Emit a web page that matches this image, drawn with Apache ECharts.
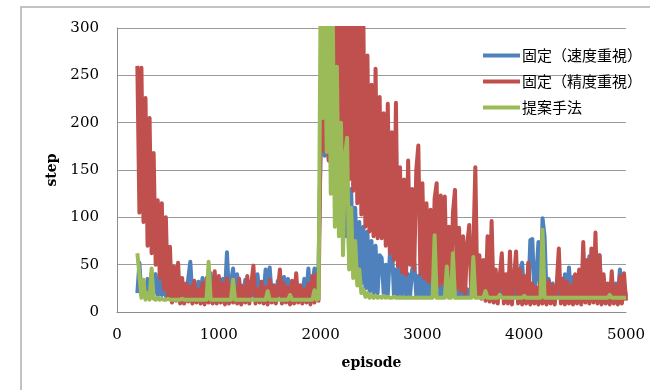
<!DOCTYPE html>
<html>
<head>
<meta charset="utf-8">
<script src="https://cdn.jsdelivr.net/npm/echarts@6/dist/echarts.min.js"></script>
<style>
  html, body { margin: 0; padding: 0; background: #fff; }
  #chart { width: 650px; height: 390px; }
</style>
</head>
<body>
<div id="chart"></div>
<script>
// episodes: 200, 220, ... 5000
var episodeStart = 200;
var episodeStep = 20;

var seriesNames = ['固定（速度重視）', '固定（精度重視）', '提案手法'];
var seriesColors = ['#4F81BD', '#C0504D', '#9BBB59'];

// 固定（速度重視）
var speedFixed = [
  20, 52, 18, 22, 17, 35, 18, 41, 20, 40,
  17, 35, 18, 25, 17, 22, 18, 24, 17, 28,
  18, 30, 17, 26, 18, 35, 53, 17, 28, 18,
  32, 17, 36, 18, 25, 17, 41, 18, 30, 17,
  28, 18, 35, 17, 63, 18, 32, 46, 17, 40,
  18, 28, 17, 34, 18, 26, 17, 30, 18, 40,
  17, 32, 18, 45, 17, 47, 18, 28, 17, 33,
  18, 30, 37, 17, 35, 18, 26, 17, 32, 18,
  28, 17, 35, 18, 46, 17, 30, 46, 18, 50,
  170, 300, 165, 290, 160, 280, 165, 260, 158, 230,
  150, 200, 80, 144, 60, 130, 50, 110, 40, 95,
  30, 90, 25, 85, 22, 75, 20, 70, 20, 60,
  57, 19, 50, 18, 60, 73, 18, 45, 18, 52,
  18, 64, 17, 40, 18, 45, 53, 17, 38, 18,
  42, 17, 35, 18, 30, 17, 38, 18, 28, 17,
  30, 18, 25, 17, 32, 18, 26, 17, 22, 17,
  28, 17, 24, 18, 20, 17, 25, 16, 20, 16,
  22, 16, 18, 16, 25, 16, 30, 16, 28, 16,
  35, 16, 40, 16, 30, 16, 38, 16, 45, 52,
  16, 35, 16, 76, 77, 16, 40, 74, 16, 99,
  80, 16, 35, 16, 30, 16, 28, 16, 33, 16,
  40, 16, 47, 16, 37, 16, 30, 16, 35, 16,
  45, 16, 59, 16, 40, 16, 50, 60, 16, 35,
  16, 28, 16, 32, 16, 30, 16, 45, 16, 30,
  16
];

// 固定（精度重視）
var accuracyFixed = [
  260, 105, 258, 95, 226, 70, 205, 62, 168, 50,
  118, 36, 115, 24, 100, 16, 69, 10, 48, 12,
  52, 9, 36, 9, 30, 11, 27, 9, 33, 10,
  24, 9, 30, 8, 36, 10, 22, 9, 43, 9,
  38, 10, 30, 8, 36, 9, 28, 10, 22, 9,
  35, 8, 27, 10, 38, 9, 30, 49, 9, 24,
  10, 32, 9, 26, 8, 34, 10, 28, 9, 22,
  45, 9, 30, 10, 26, 8, 33, 9, 41, 10,
  28, 9, 24, 10, 30, 8, 38, 10, 40, 12,
  185, 340, 170, 360, 160, 350, 165, 380, 158, 370,
  152, 360, 150, 390, 140, 350, 128, 340, 115, 330,
  103, 310, 90, 271, 85, 240, 80, 257, 78, 227,
  78, 210, 70, 220, 62, 190, 55, 221, 48, 153,
  42, 140, 39, 160, 50, 130, 45, 150, 176, 40,
  136, 35, 115, 32, 108, 30, 120, 136, 28, 123,
  30, 122, 26, 90, 25, 105, 129, 25, 89, 22,
  80, 20, 72, 92, 18, 65, 153, 16, 60, 14,
  55, 12, 80, 11, 96, 10, 45, 9, 38, 62,
  9, 40, 9, 64, 8, 35, 64, 9, 45, 8,
  38, 9, 52, 8, 30, 9, 26, 8, 35, 9,
  28, 8, 33, 9, 28, 8, 30, 67, 9, 35,
  8, 32, 9, 28, 8, 40, 9, 45, 8, 74,
  10, 55, 9, 67, 10, 84, 9, 60, 8, 40,
  9, 30, 8, 43, 9, 28, 8, 38, 9, 41,
  12
];

// 提案手法
var proposed = [
  62, 40, 15, 34, 13, 20, 13, 46, 14, 13,
  15, 13, 14, 13, 13, 14, 13, 13, 13, 13,
  13, 13, 14, 13, 13, 13, 13, 13, 13, 13,
  13, 13, 13, 13, 13, 53, 13, 13, 13, 13,
  13, 13, 13, 13, 13, 13, 13, 34, 13, 13,
  13, 13, 13, 13, 13, 13, 13, 13, 13, 13,
  13, 13, 13, 13, 22, 13, 13, 13, 13, 13,
  13, 13, 13, 13, 13, 18, 13, 13, 13, 13,
  13, 13, 13, 13, 13, 13, 13, 23, 13, 14,
  330, 205, 340, 169, 335, 125, 310, 90, 259, 80,
  200, 60, 165, 184, 45, 110, 36, 75, 28, 45,
  20, 24, 16, 20, 15, 18, 15, 17, 15, 16,
  15, 17, 15, 16, 15, 15, 16, 15, 15, 15,
  15, 15, 15, 15, 15, 15, 15, 15, 15, 15,
  15, 15, 15, 15, 15, 15, 81, 15, 15, 15,
  15, 15, 48, 15, 15, 62, 15, 15, 15, 15,
  15, 15, 15, 15, 15, 58, 15, 15, 15, 15,
  15, 22, 15, 15, 15, 15, 15, 15, 18, 15,
  15, 15, 15, 15, 15, 15, 15, 15, 15, 15,
  17, 15, 15, 15, 15, 15, 15, 15, 15, 87,
  15, 15, 15, 15, 15, 15, 15, 15, 15, 15,
  15, 15, 15, 15, 15, 15, 15, 15, 15, 15,
  15, 15, 15, 15, 15, 15, 15, 15, 15, 15,
  15, 15, 18, 15, 15, 15, 15, 15, 15, 15,
  15
];

function toPoints(values) {
  return values.map(function (v, i) {
    return [episodeStart + i * episodeStep, v];
  });
}

var serifFont = '"DejaVu Serif", "Liberation Serif", serif';

var chart = echarts.init(document.getElementById('chart'), null, { renderer: 'canvas' });

var option = {
  backgroundColor: '#fff',
  animation: false,
  color: seriesColors,
  graphic: [{
    type: 'rect',
    shape: { x: 21, y: 7, width: 700, height: 500 },
    style: { fill: 'none', stroke: '#b0b0b0', lineWidth: 1.5 },
    silent: true
  }],
  grid: { left: 117, top: 28, right: 24, bottom: 78 },
  legend: {
    orient: 'vertical',
    left: 483,
    top: 48,
    padding: 0,
    icon: 'rect',
    itemWidth: 37,
    itemHeight: 4,
    itemGap: 11,
    textStyle: { fontFamily: '"Noto Sans CJK JP"', fontSize: 15, color: '#000', padding: [0, 0, 0, -3] },
    data: seriesNames
  },
  xAxis: {
    type: 'value',
    min: 0,
    max: 5000,
    interval: 1000,
    name: 'episode',
    nameLocation: 'middle',
    nameGap: 44,
    nameTextStyle: { fontFamily: serifFont, fontWeight: 'bold', fontSize: 14, color: '#000' },
    axisLine: { show: true, lineStyle: { color: '#8c8c8c', width: 1 } },
    axisTick: { show: false },
    axisLabel: {
      fontFamily: serifFont, fontSize: 15, color: '#000', margin: 16,
      formatter: function (v) { return String(v); }
    },
    splitLine: { show: false }
  },
  yAxis: {
    type: 'value',
    min: 0,
    max: 300,
    interval: 50,
    name: 'step',
    nameLocation: 'middle',
    nameRotate: 90,
    nameGap: 52,
    nameTextStyle: { fontFamily: serifFont, fontWeight: 'bold', fontSize: 14, color: '#000' },
    axisLine: { show: true, lineStyle: { color: '#8c8c8c', width: 1 } },
    axisTick: { show: false },
    axisLabel: { fontFamily: serifFont, fontSize: 15, color: '#000', margin: 18 },
    splitLine: { lineStyle: { color: '#9a9a9a', width: 1 } }
  },
  series: [
    { name: seriesNames[0], type: 'line', data: toPoints(speedFixed) },
    { name: seriesNames[1], type: 'line', data: toPoints(accuracyFixed) },
    { name: seriesNames[2], type: 'line', data: toPoints(proposed) }
  ].map(function (s, i) {
    s.symbol = 'none';
    s.clip = true;
    s.z = 2 + i;
    s.lineStyle = { width: 4, color: seriesColors[i], join: 'round' };
    s.itemStyle = { color: seriesColors[i] };
    return s;
  })
};

chart.setOption(option);
</script>
</body>
</html>
